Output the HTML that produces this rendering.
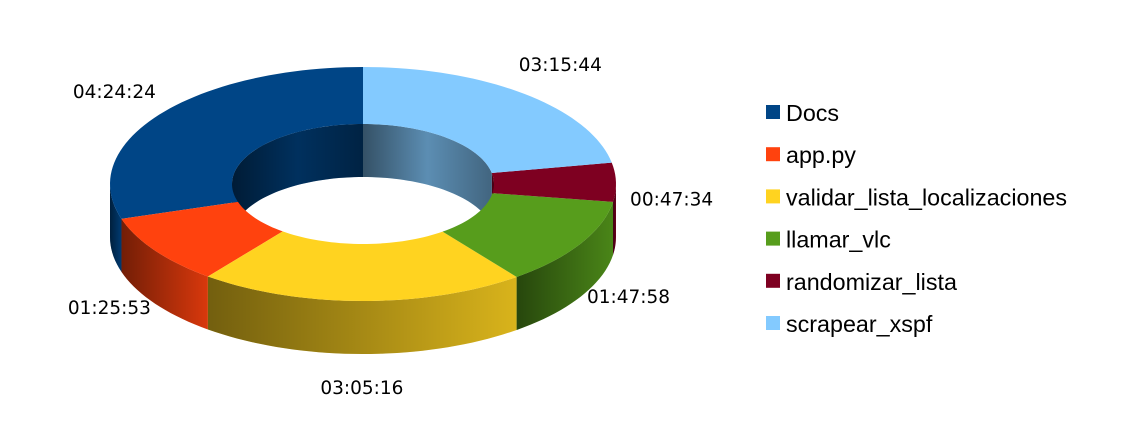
<!DOCTYPE html>
<html><head><meta charset="utf-8"><style>
html,body{margin:0;padding:0;background:#fff;}
svg{display:block;font-family:"Liberation Sans",sans-serif;}
</style></head><body>
<svg id="chart" width="1135" height="425" viewBox="0 0 1135 425">
<defs>
<linearGradient id="shade" x1="0" y1="0" x2="1" y2="0">
<stop offset="0" stop-color="#000" stop-opacity="0.55"/>
<stop offset="0.5" stop-color="#000" stop-opacity="0.35"/>
<stop offset="1" stop-color="#000" stop-opacity="0.15"/>
</linearGradient>
<linearGradient id="innerShade" x1="0" y1="0" x2="1" y2="0">
<stop offset="0" stop-color="#000" stop-opacity="0.6"/>
<stop offset="0.5" stop-color="#000" stop-opacity="0.3"/>
<stop offset="1" stop-color="#000" stop-opacity="0.5"/>
</linearGradient>
</defs>
<g id="walls"></g><g id="tops"></g><g id="labels"></g><g id="legend"></g>
</svg>
<script>
const categories = ["Docs","app.py","validar_lista_localizaciones","llamar_vlc","randomizar_lista","scrapear_xspf"];
const seconds = [15864, 5153, 11116, 6478, 2854, 11744];
const valueLabels = ["04:24:24","01:25:53","03:05:16","01:47:58","00:47:34","03:15:44"];
const colors = ["#004586","#ff420e","#ffd320","#579d1c","#7e0021","#83caff"];

const NS="http://www.w3.org/2000/svg";
const cx=363, cy=184, rx=253, ry=117, irx=131, iry=60, depth=53;
const total=seconds.reduce((a,b)=>a+b,0);
function pt(a,RX,RY,dy){const r=a*Math.PI/180;return [cx-RX*Math.sin(r), cy-RY*Math.cos(r)+(dy||0)];}
function arc(a0,a1,RX,RY,dy){let s="";const n=Math.max(2,Math.ceil(Math.abs(a1-a0)/2));for(let i=0;i<=n;i++){const p=pt(a0+(a1-a0)*i/n,RX,RY,dy);s+=(i?"L":"")+p[0].toFixed(2)+","+p[1].toFixed(2);}return s;}
function mk(tag,attrs,parent){const e=document.createElementNS(NS,tag);for(const k in attrs)e.setAttribute(k,attrs[k]);parent.appendChild(e);return e;}
const walls=document.getElementById('walls'),tops=document.getElementById('tops'),labels=document.getElementById('labels'),legend=document.getElementById('legend');
let cum=0;
const slices=seconds.map(v=>{const a0=cum/total*360;cum+=v;return [a0,cum/total*360];});
slices.forEach((s,i)=>{
  [[0,90],[270,360]].forEach(r=>{
    const a0=Math.max(s[0],r[0]),a1=Math.min(s[1],r[1]);
    if(a1<=a0)return;
    const d="M"+arc(a0,a1,irx,iry,0)+"L"+arc(a1,a0,irx,iry,depth)+"Z";
    const g=mk('path',{d:d,fill:colors[i]},walls);
    
    
    mk('path',{d:d,fill:'url(#innerShade)'},walls);
  });
});
slices.forEach((s,i)=>{
  const d="M"+arc(s[0],s[1],rx,ry,0)+"L"+arc(s[1],s[0],irx,iry,0)+"Z";
  const p=mk('path',{d:d,fill:colors[i]},tops);
  
  
});
slices.forEach((s,i)=>{
  const a0=Math.max(s[0],90),a1=Math.min(s[1],270);
  if(a1<=a0)return;
  const d="M"+arc(a0,a1,rx,ry,0)+"L"+arc(a1,a0,rx,ry,depth)+"Z";
  const p=mk('path',{d:d,fill:colors[i]},walls);
  
  
  mk('path',{d:d,fill:'url(#shade)'},walls);
});
slices.forEach((s,i)=>{
  const m=(s[0]+s[1])/2;const r=m*Math.PI/180;const c=Math.cos(r);
  let [x,y]=pt(m,rx*1.22,ry*1.3,0);
  y+=4 + (c<0.6 ? depth*0.55*(0.6-c)/1.6*1.85 : 0);
  const t=mk('text',{x:x.toFixed(1),y:y.toFixed(1),'text-anchor':'middle','font-size':18.5,'font-family':'"DejaVu Sans",sans-serif',fill:'#000'},labels);
  t.textContent=valueLabels[i];
  
  
});
categories.forEach((c,i)=>{
  const y=113+i*42.2;
  const r=mk('rect',{x:766,y:y-8,width:14,height:14,fill:colors[i]},legend);
  
  
  const t=mk('text',{x:786,y:y+8,'font-size':23.3,fill:'#000'},legend);
  t.textContent=c;
  
  
});
</script>
</body></html>
